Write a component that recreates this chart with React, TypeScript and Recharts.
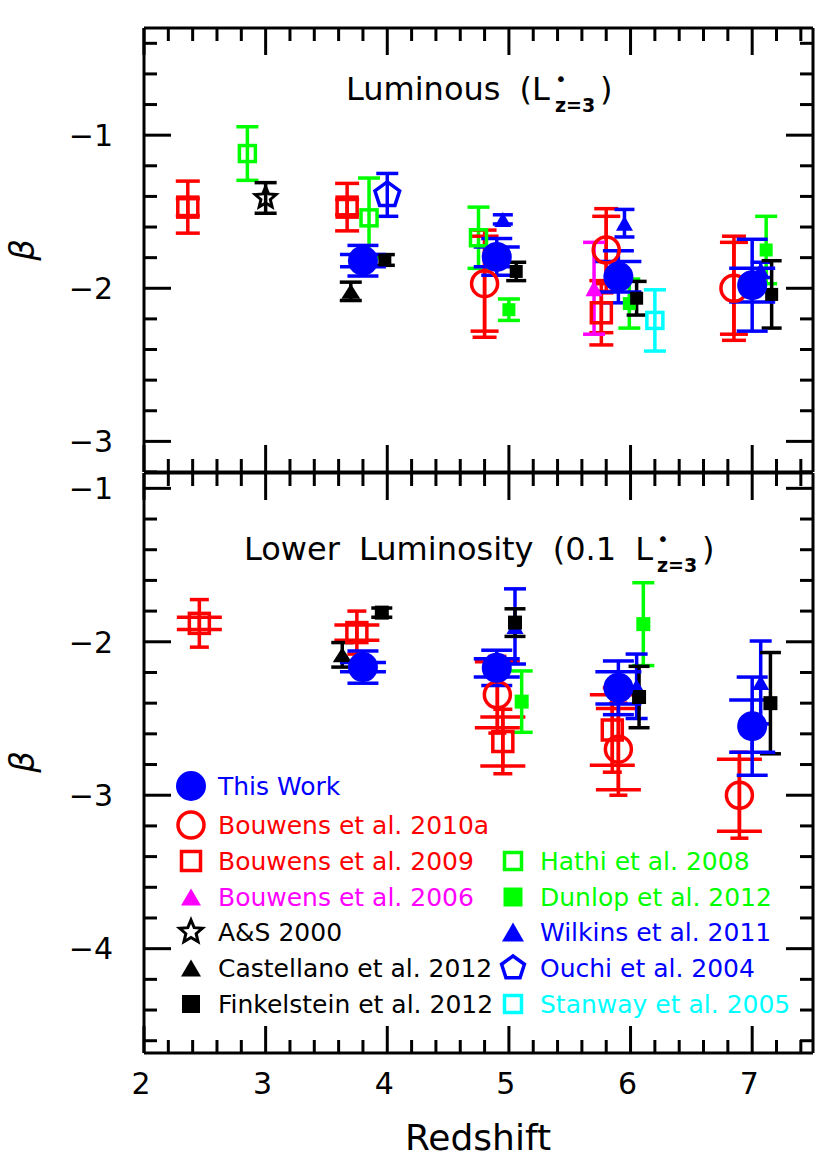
import React from "react";
import { ErrorBar, Scatter, ScatterChart, XAxis, YAxis } from "recharts";

// Paleta IDL clássica
const RED = "#FF0000";
const GREEN = "#00FF00";
const BLUE = "#0000FF";
const MAGENTA = "#FF00FF";
const CYAN = "#00FFFF";
const BLACK = "#000000";
const FONT = "'DejaVu Sans', sans-serif";

// ticks
const X_TICKS = [2, 2.2, 2.4, 2.6, 2.8, 3, 3.2, 3.4, 3.6, 3.8, 4, 4.2, 4.4, 4.6, 4.8, 5, 5.2, 5.4, 5.6, 5.8, 6, 6.2, 6.4, 6.6, 6.8, 7, 7.2, 7.4];
const Y_TICKS_LUM = [-3.2, -3, -2.8, -2.6, -2.4, -2.2, -2, -1.8, -1.6, -1.4, -1.2, -1, -0.8, -0.6, -0.4];
const Y_TICKS_FAINT = [-4.6, -4.4, -4.2, -4, -3.8, -3.6, -3.4, -3.2, -3, -2.8, -2.6, -2.4, -2.2, -2, -1.8, -1.6, -1.4, -1.2, -1];
const X_DOMAIN = [2, 7.5];
const Y_DOMAIN_LUM = [-3.2, -0.3];
const Y_DOMAIN_FAINT = [-4.68, -0.9];

// [z, beta, erro1, erro2]  — painel luminoso (L*z=3)
const THIS_WORK_LUM = [[3.8, -1.82, 0.04, 0.1], [4.9, -1.795, 0.065, 0.12], [5.9, -1.925, 0.1, 0.17], [7.0, -1.98, 0.11, 0.3]];
const BOUWENS10A_LUM = [[4.8, -1.97, 0.31, 0.35], [5.8, -1.75, 0.22, 0.27], [6.85, -2.0, 0.3, 0.34]];
const BOUWENS09_LUM = [[2.36, -1.47, 0.055, 0.17], [3.67, -1.47, 0.05, 0.155], [5.76, -2.16, 0.13, 0.21]];
const BOUWENS06_LUM = [[5.7, -2.0, 0.3]];
const AS2000_LUM = [[3.0, -1.41, 0.1]];
const CASTELLANO_LUM = [[3.7, -2.02, 0.06]];
const FINKELSTEIN_LUM = [[3.98, -1.815, 0.035], [5.06, -1.89, 0.06], [6.05, -2.065, 0.11], [7.16, -2.04, 0.22]];
const HATHI_LUM = [[2.85, -1.12, 0.175], [3.85, -1.54, 0.26], [4.75, -1.67, 0.2]];
const DUNLOP_LUM = [[5.0, -2.14, 0.07], [5.99, -2.1, 0.16], [7.115, -1.75, 0.22]];
const WILKINS_LUM = [[4.95, -1.55, 0.03], [5.95, -1.575, 0.09], [7.07, -1.88, 0.05]];
const OUCHI_LUM = [[4.0, -1.39, 0.14]];
const STANWAY_LUM = [[6.2, -2.21, 0.2]];

// painel de baixa luminosidade (0.1 L*z=3)
const THIS_WORK_FAINT = [[3.8, -2.165, 0.03, 0.105], [4.9, -2.17, 0.06, 0.115], [5.9, -2.3, 0.105, 0.175], [7.0, -2.55, 0.17, 0.32]];
const BOUWENS10A_FAINT = [[4.905, -2.345, 0.215, 0.25], [5.9, -2.7, 0.265, 0.3], [6.895, -3.0, 0.235, 0.28]];
const BOUWENS09_FAINT = [[2.455, -1.88, 0.04, 0.155], [3.75, -1.94, 0.05, 0.14], [4.95, -2.65, 0.16, 0.21], [5.85, -2.575, 0.23, 0.275]];
const CASTELLANO_FAINT = [[3.63, -2.085, 0.08]];
const FINKELSTEIN_FAINT = [[3.955, -1.81, 0.03], [5.05, -1.875, 0.09], [6.07, -2.36, 0.2], [7.15, -2.4, 0.33]];
const DUNLOP_FAINT = [[5.105, -2.39, 0.2], [6.105, -1.885, 0.27]];
const WILKINS_FAINT = [[5.05, -1.9, 0.245], [6.05, -2.29, 0.21], [7.07, -2.265, 0.27]];

type Mark = (cx: number, cy: number) => React.ReactElement;
type Row = { z: number; b: number; e1: number; e2?: number };
type Serie = { id: string; color: string; pts: number[][]; mark: Mark; caps: number[] };

const toRows = (pts: number[][]): Row[] => pts.map(([z, b, e1, e2]) => ({ z, b, e1, e2 }));

const LW = 3.5; // espessura das linhas (thick=3 no IDL)

/* símbolos */
const disc = (r: number, c: string): Mark => (cx, cy) => <circle cx={cx} cy={cy} r={r} fill={c} />;
const ring = (r: number, c: string): Mark => (cx, cy) => (
  <circle cx={cx} cy={cy} r={r} fill="none" stroke={c} strokeWidth={LW} />
);
const box = (s: number, c: string): Mark => (cx, cy) => (
  <rect x={cx - s / 2} y={cy - s / 2} width={s} height={s} fill="none" stroke={c} strokeWidth={LW} />
);
const block = (s: number, c: string): Mark => (cx, cy) => (
  <rect x={cx - s / 2} y={cy - s / 2} width={s} height={s} fill={c} />
);
const tri = (w: number, h: number, c: string): Mark => (cx, cy) => (
  <polygon points={`${cx - w / 2},${cy + h / 2} ${cx + w / 2},${cy + h / 2} ${cx},${cy - h / 2}`} fill={c} />
);
const star = (R: number, c: string): Mark => (cx, cy) => {
  const p: string[] = [];
  for (let i = 0; i < 10; i++) {
    const a = -Math.PI / 2 + (i * Math.PI) / 5;
    const r = i % 2 ? R * 0.45 : R;
    p.push(`${cx + r * Math.cos(a)},${cy + r * Math.sin(a)}`);
  }
  return <polygon points={p.join(" ")} fill="none" stroke={c} strokeWidth={3} />;
};
const penta = (R: number, c: string): Mark => (cx, cy) => {
  const p: string[] = [];
  for (let i = 0; i < 5; i++) {
    const a = -Math.PI / 2 + (i * 2 * Math.PI) / 5;
    p.push(`${cx + R * Math.cos(a)},${cy + R * Math.sin(a)}`);
  }
  return <polygon points={p.join(" ")} fill="none" stroke={c} strokeWidth={LW} />;
};

// ordem = ordem de desenho (This Work por cima)
const LUM_SERIES: Serie[] = [
  { id: "hathi", color: GREEN, pts: HATHI_LUM, mark: box(16, GREEN), caps: [11] },
  { id: "stanway", color: CYAN, pts: STANWAY_LUM, mark: box(16, CYAN), caps: [11] },
  { id: "ouchi", color: BLUE, pts: OUCHI_LUM, mark: penta(13, BLUE), caps: [11] },
  { id: "b09", color: RED, pts: BOUWENS09_LUM, mark: box(20, RED), caps: [12, 12] },
  { id: "b10a", color: RED, pts: BOUWENS10A_LUM, mark: ring(13, RED), caps: [14, 12] },
  { id: "b06", color: MAGENTA, pts: BOUWENS06_LUM, mark: tri(17, 16, MAGENTA), caps: [11] },
  { id: "as", color: BLACK, pts: AS2000_LUM, mark: star(11, BLACK), caps: [11] },
  { id: "cast", color: BLACK, pts: CASTELLANO_LUM, mark: tri(19, 15, BLACK), caps: [11] },
  { id: "dunlop", color: GREEN, pts: DUNLOP_LUM, mark: block(13, GREEN), caps: [11] },
  { id: "wilkins", color: BLUE, pts: WILKINS_LUM, mark: tri(17, 15, BLUE), caps: [10] },
  { id: "fink", color: BLACK, pts: FINKELSTEIN_LUM, mark: block(13, BLACK), caps: [10] },
  { id: "this", color: BLUE, pts: THIS_WORK_LUM, mark: disc(15, BLUE), caps: [23, 15.5] },
];

const FAINT_SERIES: Serie[] = [
  { id: "b09", color: RED, pts: BOUWENS09_FAINT, mark: box(20, RED), caps: [22.5, 9.5] },
  { id: "b10a", color: RED, pts: BOUWENS10A_FAINT, mark: ring(13, RED), caps: [22.5, 9] },
  { id: "cast", color: BLACK, pts: CASTELLANO_FAINT, mark: tri(19, 15, BLACK), caps: [11] },
  { id: "dunlop", color: GREEN, pts: DUNLOP_FAINT, mark: block(14, GREEN), caps: [11] },
  { id: "wilkins", color: BLUE, pts: WILKINS_FAINT, mark: tri(17, 15, BLUE), caps: [11] },
  { id: "fink", color: BLACK, pts: FINKELSTEIN_FAINT, mark: block(14, BLACK), caps: [10.5] },
  { id: "this", color: BLUE, pts: THIS_WORK_FAINT, mark: disc(15, BLUE), caps: [23, 15.5] },
];

/* ticks para dentro, estilo IDL */
const MAJOR = 27;
const MINOR = 13;
const isMajor = (v: number) => Math.abs(v - Math.round(v)) < 1e-6;
const frame = { stroke: BLACK, strokeWidth: 3 };

const bottomTick = (withLabels: boolean) => (p: any) => {
  const v = p.payload.value;
  const len = isMajor(v) ? MAJOR : MINOR;
  return (
    <g>
      <line x1={p.x} x2={p.x} y1={p.y} y2={p.y - len} stroke={BLACK} strokeWidth={3} />
      {withLabels && isMajor(v) && (
        <text x={p.x - 3} y={p.y + 41} textAnchor="middle" fontFamily={FONT} fontSize={30} fill={BLACK}>
          {Math.round(v)}
        </text>
      )}
    </g>
  );
};
const topTick = (p: any) => {
  const len = isMajor(p.payload.value) ? MAJOR : MINOR;
  return <line x1={p.x} x2={p.x} y1={p.y} y2={p.y + len} stroke={BLACK} strokeWidth={3} />;
};
const leftTick = (p: any) => {
  const v = p.payload.value;
  const len = isMajor(v) ? MAJOR : MINOR;
  return (
    <g>
      <line x1={p.x} x2={p.x + len} y1={p.y} y2={p.y} stroke={BLACK} strokeWidth={3} />
      {isMajor(v) && (
        <text x={p.x - 31} y={p.y} dy="0.36em" textAnchor="end" fontFamily={FONT} fontSize={30} fill={BLACK}>
          {`\u2212${Math.abs(Math.round(v))}`}
        </text>
      )}
    </g>
  );
};
const rightTick = (p: any) => {
  const len = isMajor(p.payload.value) ? MAJOR : MINOR;
  return <line x1={p.x} x2={p.x - len} y1={p.y} y2={p.y} stroke={BLACK} strokeWidth={3} />;
};

function Panel({
  series,
  yDomain,
  yTicks,
  top,
  height,
  margin,
  xLabels,
}: {
  series: Serie[];
  yDomain: number[];
  yTicks: number[];
  top: number;
  height: number;
  margin: { top: number; right: number; bottom: number; left: number };
  xLabels: boolean;
}) {
  const axis = { tickLine: false, tickSize: 0, tickMargin: 0, axisLine: frame, interval: 0 as const, allowDataOverflow: true };
  return (
    <div style={{ position: "absolute", left: 0, top }}>
      <ScatterChart width={830} height={height} margin={margin}>
        <XAxis xAxisId="top" orientation="top" type="number" dataKey="z" domain={X_DOMAIN} ticks={X_TICKS} height={2} tick={topTick} {...axis} />
        <XAxis xAxisId="bottom" orientation="bottom" type="number" dataKey="z" domain={X_DOMAIN} ticks={X_TICKS} height={xLabels ? 110 : 2} tick={bottomTick(xLabels)} {...axis} />
        <YAxis yAxisId="left" orientation="left" type="number" dataKey="b" domain={yDomain} ticks={yTicks} width={144} tick={leftTick} {...axis} />
        <YAxis yAxisId="right" orientation="right" type="number" dataKey="b" domain={yDomain} ticks={yTicks} width={2} tick={rightTick} {...axis} />
        {series.map((s) => (
          <Scatter
            key={s.id}
            name={s.id}
            data={toRows(s.pts)}
            xAxisId="bottom"
            yAxisId="left"
            isAnimationActive={false}
            shape={(p: any) => s.mark(p.cx, p.cy)}
          >
            {s.caps.map((w, i) => (
              <ErrorBar
                key={i}
                dataKey={i === 0 ? "e1" : "e2"}
                direction="y"
                width={w}
                stroke={s.color}
                strokeWidth={LW}
                isAnimationActive={false}
              />
            ))}
          </Scatter>
        ))}
      </ScatterChart>
    </div>
  );
}

/* legenda (painel inferior) */
const LEGEND_ROWS = [786, 825, 861, 897, 932, 968, 1004];
const LEGEND_COLS = [191, 513];
const LEGEND = [
  { col: 0, row: 0, label: "This Work", color: BLUE, mark: disc(15, BLUE) },
  { col: 0, row: 1, label: "Bouwens et al. 2010a", color: RED, mark: ring(13, RED) },
  { col: 0, row: 2, label: "Bouwens et al. 2009", color: RED, mark: box(19, RED) },
  { col: 0, row: 3, label: "Bouwens et al. 2006", color: MAGENTA, mark: tri(20, 17, MAGENTA) },
  { col: 0, row: 4, label: "A&S 2000", color: BLACK, mark: star(12, BLACK) },
  { col: 0, row: 5, label: "Castellano et al. 2012", color: BLACK, mark: tri(20, 17, BLACK) },
  { col: 0, row: 6, label: "Finkelstein et al. 2012", color: BLACK, mark: block(18, BLACK) },
  { col: 1, row: 2, label: "Hathi et al. 2008", color: GREEN, mark: box(17, GREEN) },
  { col: 1, row: 3, label: "Dunlop et al. 2012", color: GREEN, mark: block(19, GREEN) },
  { col: 1, row: 4, label: "Wilkins et al. 2011", color: BLUE, mark: tri(22, 19, BLUE) },
  { col: 1, row: 5, label: "Ouchi et al. 2004", color: BLUE, mark: penta(12, BLUE) },
  { col: 1, row: 6, label: "Stanway et al. 2005", color: CYAN, mark: box(17, CYAN) },
];

function Overlay() {
  return (
    <svg width={830} height={1164} style={{ position: "absolute", left: 0, top: 0, pointerEvents: "none" }}>
      <g fontFamily={FONT} fill={BLACK}>
        {/* títulos */}
        <text x={346} y={100} fontSize={32} wordSpacing={9}>Luminous (L</text>
        <text x={555} y={86} fontSize={20}>•</text>
        <text x={555} y={112} fontSize={19} fontWeight="bold">z=3</text>
        <text x={600} y={100} fontSize={32}>)</text>

        <text x={244} y={560} fontSize={32} wordSpacing={9}>Lower Luminosity (0.1 L</text>
        <text x={657} y={546} fontSize={20}>•</text>
        <text x={657} y={572} fontSize={19} fontWeight="bold">z=3</text>
        <text x={702} y={560} fontSize={32}>)</text>

        {/* rótulos dos eixos */}
        <text x={22} y={250} transform="rotate(-90 22 250)" textAnchor="middle" dominantBaseline="central" fontSize={34} fontStyle="italic">β</text>
        <text x={22} y={762} transform="rotate(-90 22 762)" textAnchor="middle" dominantBaseline="central" fontSize={34} fontStyle="italic">β</text>
        <text x={478} y={1150} textAnchor="middle" fontSize={36}>Redshift</text>
      </g>
      {LEGEND.map((l) => {
        const x = LEGEND_COLS[l.col];
        const y = LEGEND_ROWS[l.row];
        return (
          <g key={l.label}>
            {l.mark(x, y)}
            <text x={x + 27} y={y + 9} fontFamily={FONT} fontSize={25} fill={l.color}>
              {l.label}
            </text>
          </g>
        );
      })}
    </svg>
  );
}

export default function App() {
  return (
    <div style={{ position: "absolute", left: 0, top: 0, width: 830, height: 1164, background: "#fff" }}>
      <Panel
        series={LUM_SERIES}
        yDomain={Y_DOMAIN_LUM}
        yTicks={Y_TICKS_LUM}
        top={0}
        height={476}
        margin={{ top: 26, right: 15, bottom: 2, left: 0 }}
        xLabels={false}
      />
      <Panel
        series={FAINT_SERIES}
        yDomain={Y_DOMAIN_FAINT}
        yTicks={Y_TICKS_FAINT}
        top={470}
        height={694}
        margin={{ top: 1, right: 15, bottom: 1, left: 0 }}
        xLabels={true}
      />
      <Overlay />
    </div>
  );
}
